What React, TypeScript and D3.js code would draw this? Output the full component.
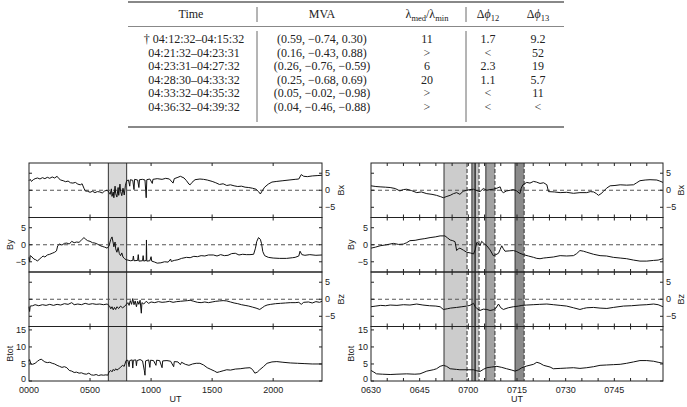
import * as d3 from "d3";

type Pt = [number, number];

// ---- table ----
const tableHead = ["Time", "MVA", "lambda", "dphi12", "dphi13"];
const tableTimes = [
  "† 04:12:32–04:15:32",
  "04:21:32–04:23:31",
  "04:23:31–04:27:32",
  "04:28:30–04:33:32",
  "04:33:32–04:35:32",
  "04:36:32–04:39:32",
];
const tableMva = [
  "(0.59, −0.74, 0.30)",
  "(0.16, −0.43, 0.88)",
  "(0.26, −0.76, −0.59)",
  "(0.25, −0.68, 0.69)",
  "(0.05, −0.02, −0.98)",
  "(0.04, −0.46, −0.88)",
];
const tableLambda = ["11", ">", "6", "20", ">", ">"];
const tablePhi12 = ["1.7", "<", "2.3", "1.1", "<", "<"];
const tablePhi13 = ["9.2", "52", "19", "5.7", "11", "<"];

// ---- left plot: whole day, hours UT ----
const dayBx: Pt[] = [
  [0, 2.8], [0.1, 3.2], [0.2, 2.6], [0.35, 3.1], [0.5, 3.4], [0.7, 3.6], [0.9, 3.3], [1.1, 3.7], [1.3, 3.4],
  [1.5, 3.8], [1.7, 3.5], [1.9, 3.9], [2.1, 3.6], [2.3, 4.1], [2.45, 3.4], [2.6, 3.0], [2.8, 2.8], [3.0, 2.5],
  [3.2, 2.7], [3.4, 2.2], [3.6, 2.1], [3.8, 2.3], [4.0, 1.8], [4.2, 1.6], [4.35, 1.9], [4.5, 0.6], [4.6, -0.2],
  [4.8, -0.3], [5.0, -0.6], [5.2, -0.3], [5.4, -0.7], [5.6, -0.4], [5.8, -0.5], [6.0, -0.8], [6.2, -0.2],
  [6.4, 0], [6.55, -0.6], [6.65, -1.2], [6.75, 0.4], [6.8, -1.8], [6.9, -0.5], [6.95, -2.2], [7.05, 1.2],
  [7.1, -1.0], [7.2, -2.0], [7.3, 0.8], [7.35, -1.5], [7.45, 1.8], [7.5, -0.3], [7.6, -1.6], [7.7, 0.6],
  [7.8, -1.4], [7.9, 1.5], [8.0, 2.8], [8.15, 3.0], [8.25, 1.2], [8.3, 3.1], [8.5, 2.9], [8.6, 0.2],
  [8.65, 3.2], [8.9, 3.0], [9.0, 0.8], [9.05, 3.1], [9.3, 3.2], [9.5, 3.0], [9.6, -2.2], [9.65, 3.1],
  [9.9, 3.3], [10.1, 2.0], [10.15, 3.2], [10.5, 3.4], [10.9, 3.2], [11.2, 3.5], [11.5, 3.3], [11.8, 2.1],
  [11.9, 3.4], [12.2, 3.8], [12.4, 4.1], [12.7, 3.6], [12.9, 2.8], [13.1, 1.8], [13.2, 1.6], [13.35, 2.3],
  [13.6, 3.1], [14.0, 3.3], [14.3, 3.2], [14.6, 3.0], [15.0, 2.6], [15.3, 2.2], [15.6, 1.7], [15.9, 1.9],
  [16.2, 1.4], [16.5, 1.6], [16.8, 1.3], [17.1, 1.1], [17.4, 1.2], [17.7, 0.9], [18.0, 0.8], [18.3, 0.6],
  [18.6, 0.3], [18.8, -0.4], [18.95, -1.1], [19.1, -0.2], [19.3, 0.9], [19.6, 1.8], [19.9, 2.4], [20.3, 2.6],
  [20.8, 2.8], [21.3, 3.0], [21.8, 3.2], [22.1, 3.3], [22.3, 4.6], [22.5, 4.1], [22.8, 4.0], [23.2, 4.2],
  [23.6, 4.3], [24.0, 4.4],
];
const dayBy: Pt[] = [
  [0, -3.7], [0.05, -5.0], [0.1, -3.2], [0.25, -3.6], [0.4, -4.2], [0.55, -4.4], [0.7, -4.8], [0.85, -4.2],
  [1.0, -3.8], [1.15, -3.3], [1.3, -3.6], [1.5, -3.0], [1.7, -2.8], [1.9, -2.5], [2.1, -2.2], [2.25, -1.8],
  [2.35, -0.3], [2.5, 0.2], [2.7, -0.1], [2.9, 0.4], [3.1, 0.5], [3.3, 0.2], [3.5, 1.0], [3.7, 0.6], [3.9, 0.8],
  [4.1, 0.7], [4.3, 1.4], [4.5, 2.1], [4.65, 1.6], [4.8, 1.2], [5.0, 1.0], [5.2, 0.6], [5.4, 0.5], [5.6, 0.2],
  [5.8, -0.2], [6.0, -0.5], [6.2, -0.7], [6.4, -1.0], [6.55, -0.4], [6.7, 1.6], [6.8, 2.3], [6.9, 0.5],
  [6.95, -0.6], [7.05, 0.8], [7.1, -1.2], [7.2, -2.2], [7.3, -0.8], [7.4, -2.6], [7.5, -3.2], [7.6, -2.4],
  [7.7, -3.6], [7.8, -4.0], [7.95, -4.4], [8.1, -4.5], [8.3, -4.7], [8.5, -4.6], [8.55, -3.3], [8.6, -4.7],
  [8.9, -4.6], [8.95, -2.9], [9.0, -4.8], [9.3, -4.7], [9.35, -3.2], [9.4, -4.8], [9.6, -4.6], [9.62, 1.4],
  [9.65, -4.8], [9.9, -4.7], [10.0, -3.5], [10.05, -4.8], [10.3, -5.1], [10.5, -5.4], [10.8, -5.3],
  [11.1, -5.0], [11.4, -5.1], [11.6, -4.2], [11.65, -4.9], [11.9, -4.6], [12.2, -4.4], [12.5, -4.0],
  [12.9, -3.7], [13.2, -3.8], [13.5, -3.4], [13.8, -3.5], [14.1, -3.2], [14.4, -3.3], [14.7, -3.0],
  [15.1, -3.0], [15.4, -3.3], [15.7, -2.9], [16.0, -3.2], [16.3, -3.1], [16.6, -2.6], [16.9, -2.5],
  [17.2, -3.0], [17.5, -2.8], [17.8, -2.9], [18.1, -2.9], [18.4, -2.8], [18.55, -1.0], [18.65, 0.9],
  [18.8, 2.1], [18.95, 1.6], [19.05, 0.3], [19.15, -2.0], [19.3, -3.2], [19.6, -3.7], [20.0, -3.9],
  [20.5, -4.0], [21.1, -4.0], [21.6, -3.8], [21.8, -3.7], [22.1, -3.3], [22.2, -1.9], [22.35, -2.9],
  [22.6, -3.1], [23.0, -2.9], [23.5, -3.1], [24.0, -3.0],
];
const dayBz: Pt[] = [
  [0, -2.2], [0.05, -3.6], [0.1, -2.0], [0.3, -1.9], [0.5, -1.6], [0.8, -1.9], [1.1, -1.6], [1.4, -1.8],
  [1.7, -1.5], [2.0, -1.8], [2.3, -1.5], [2.6, -1.7], [2.9, -1.3], [3.2, -1.5], [3.5, -1.0], [3.7, -1.6],
  [4.0, -1.4], [4.3, -1.6], [4.6, -1.2], [4.9, -1.5], [5.2, -1.3], [5.5, -1.5], [5.8, -1.4], [6.1, -1.6],
  [6.4, -1.4], [6.6, -2.0], [6.7, -2.8], [6.8, -2.2], [6.9, -3.1], [7.0, -2.4], [7.1, -3.0], [7.2, -2.2],
  [7.35, -2.7], [7.5, -2.0], [7.65, -2.5], [7.8, -2.2], [7.95, -1.6], [8.1, -1.0], [8.2, -1.8], [8.3, -0.4],
  [8.4, -1.5], [8.5, 0.2], [8.6, -1.6], [8.7, -0.5], [8.8, -2.2], [8.9, -0.6], [9.0, -1.5], [9.1, -0.3],
  [9.2, -4.1], [9.25, -1.0], [9.4, -1.4], [9.6, -0.6], [9.8, -1.2], [10.0, -0.8], [10.3, -1.0], [10.6, -0.7],
  [10.9, -0.9], [11.2, -0.8], [11.5, -0.6], [11.8, -0.9], [12.1, -0.7], [12.4, -0.6], [12.7, -0.5],
  [13.0, -0.4], [13.2, -0.3], [13.5, -0.6], [13.8, -0.9], [14.1, -1.0], [14.4, -0.8], [14.7, -1.0],
  [15.0, -0.8], [15.3, -0.6], [15.6, -0.5], [15.9, -0.4], [16.2, -0.5], [16.5, -0.8], [16.8, -1.1],
  [17.1, -1.3], [17.4, -1.6], [17.7, -1.8], [18.0, -2.0], [18.3, -2.3], [18.6, -2.6], [18.9, -3.0],
  [19.1, -2.5], [19.3, -2.0], [19.5, -1.7], [19.8, -1.5], [20.2, -1.3], [20.6, -1.2], [21.0, -1.1],
  [21.4, -1.0], [21.8, -1.0], [22.1, -0.9], [22.3, -1.5], [22.5, -0.9], [22.9, -0.8], [23.2, -1.1],
  [23.5, -0.7], [23.8, -0.9], [24.0, -0.6],
];
const dayBtot: Pt[] = [
  [0, 5.8], [0.05, 6.3], [0.15, 5.0], [0.3, 4.9], [0.5, 5.2], [0.7, 5.8], [0.85, 6.2], [1.0, 6.4], [1.15, 6.0],
  [1.3, 5.6], [1.5, 5.4], [1.7, 5.5], [1.9, 5.2], [2.1, 5.0], [2.3, 4.6], [2.5, 4.3], [2.7, 4.0], [2.9, 4.2],
  [3.1, 3.9], [3.3, 3.1], [3.5, 2.9], [3.7, 2.5], [3.9, 2.6], [4.1, 2.3], [4.3, 2.4], [4.5, 2.1], [4.7, 2.0],
  [4.9, 2.3], [5.1, 1.8], [5.3, 1.7], [5.5, 1.9], [5.7, 1.6], [5.9, 1.8], [6.1, 1.7], [6.3, 1.8], [6.45, 1.7],
  [6.55, 2.6], [6.7, 3.1], [6.8, 2.7], [6.9, 3.4], [7.0, 3.0], [7.1, 3.6], [7.2, 3.2], [7.35, 3.6], [7.5, 4.0],
  [7.65, 4.6], [7.8, 4.3], [7.95, 6.0], [8.1, 6.1], [8.2, 4.2], [8.25, 6.0], [8.45, 6.2], [8.5, 3.8],
  [8.55, 6.1], [8.75, 6.2], [8.8, 4.5], [8.85, 6.0], [9.1, 6.3], [9.3, 5.9], [9.45, 3.0], [9.5, 1.7],
  [9.55, 5.9], [9.8, 6.2], [9.9, 4.0], [9.95, 6.1], [10.2, 6.0], [10.4, 4.6], [10.45, 6.1], [10.7, 6.0],
  [10.9, 3.9], [10.95, 5.9], [11.3, 6.0], [11.6, 5.8], [11.85, 4.2], [11.9, 5.7], [12.2, 5.6], [12.4, 4.8],
  [12.5, 5.5], [12.8, 4.9], [13.1, 4.6], [13.4, 5.0], [13.7, 5.2], [14.0, 5.2], [14.3, 4.7], [14.6, 3.9],
  [14.9, 3.4], [15.2, 2.9], [15.4, 2.5], [15.6, 2.7], [15.9, 3.0], [16.2, 3.3], [16.5, 3.2], [16.9, 3.5],
  [17.3, 3.6], [17.7, 3.8], [18.1, 3.9], [18.3, 3.4], [18.5, 2.3], [18.7, 2.6], [18.9, 3.3], [19.2, 4.2],
  [19.5, 5.2], [19.9, 5.6], [20.3, 5.7], [20.8, 5.5], [21.4, 5.3], [22.0, 5.2], [22.6, 5.1], [23.2, 5.0],
  [24.0, 5.0],
];

// ---- right plot: minutes after 06:30 UT ----
const zoomBx: Pt[] = [
  [0, 1.3], [1.5, 1.1], [2.8, 1.0], [4.5, 0.9], [5.9, 0.8], [7.5, 0.5], [8.9, -0.2], [10, 0.2], [11, 0.3],
  [12.5, -0.1], [14.1, -0.7], [15.5, -0.5], [17.2, -1.0], [18.8, -1.2], [20.2, -1.5], [21.5, -1.9],
  [22.3, -2.2], [23.4, -1.8], [24.4, -1.5], [25.4, -1.0], [26.4, -0.7], [27.4, -1.2], [28.4, -0.3],
  [29.5, 0], [30.5, 0.2], [31.6, 0.3], [32.6, -0.1], [33.6, -0.4], [34.6, 0.5], [35.7, 0], [36.7, 0.2],
  [37.7, 0.3], [38.8, 0.6], [39.8, 1.0], [40.3, -0.3], [40.8, -0.7], [41.8, -0.2], [42.9, 0], [43.9, 0.2],
  [44.9, -0.2], [45.9, -1.0], [46.3, 0.6], [46.8, 1.6], [48, 2.3], [49, 2.1], [50.1, 2.6], [51, 2.4],
  [52.1, 2.0], [53.2, 2.2], [54.2, 1.6], [54.7, -0.4], [56.5, -0.5], [58.3, -0.7], [60.3, -0.6],
  [62.4, -0.9], [64.4, -0.7], [66.5, -0.7], [67.6, -0.4], [68.6, -0.5], [69.5, -1.0], [70.1, -1.5],
  [70.9, -1.0], [71.6, -0.4], [72.6, 0.6], [73.7, 1.3], [75.2, 1.4], [76.8, 1.6], [78.8, 1.5], [80.9, 1.6],
  [81.9, 2.2], [82.9, 2.8], [84.5, 3.0], [86, 3.1], [88.1, 3.0], [89, 2.7], [90, 2.3],
];
const zoomBy: Pt[] = [
  [0, -1.0], [1.4, -0.7], [2.8, -0.3], [4.8, 0], [6.9, 0.4], [8.5, 0.1], [10, 0.2], [11, 0.6], [12, 1.2],
  [13.6, 1.3], [15.1, 1.6], [16.6, 1.8], [18.2, 2.1], [19.8, 2.3], [21.3, 2.6], [22.8, 2.6], [23.6, 2.0],
  [24.4, 1.4], [25.2, 1.2], [25.9, 0.9], [26.4, -1.7], [26.9, -1.2], [27.4, -1.0], [28.5, -1.6],
  [29.5, -2.2], [30.6, -2.4], [31.6, -2.7], [32.1, -1.5], [32.6, 0.7], [33.1, 0.4], [33.6, -0.3],
  [34.1, 1.0], [34.9, 0.3], [35.7, -0.3], [36.7, -1.5], [37.7, -3.2], [38.5, -2.9], [39.3, -2.5],
  [39.8, -1.4], [40.3, -0.3], [40.8, -1.2], [41.3, -1.9], [42.6, -1.8], [43.9, -1.7], [44.9, -2.0],
  [45.9, -2.5], [47, -2.9], [48.5, -3.3], [50.1, -3.7], [51.1, -4.0], [52.1, -4.1], [53.2, -3.9],
  [54.2, -3.8], [56.2, -3.6], [58.3, -3.2], [60.3, -3.3], [62.4, -3.2], [63.4, -2.6], [64.4, -1.7],
  [65.5, -1.9], [66.5, -2.2], [68.6, -2.8], [70.6, -3.2], [72.6, -3.3], [74.7, -3.7], [76.8, -3.9],
  [78.8, -4.1], [80.9, -4.5], [82.9, -4.8], [85, -4.8], [87.1, -4.6], [88.5, -4.5], [90, -4.1],
];
const zoomBz: Pt[] = [
  [0, -2.2], [1.5, -2.0], [3, -1.8], [4.5, -1.9], [5.9, -1.7], [8, -1.8], [10, -1.6], [12, -1.7],
  [14.1, -1.4], [16, -1.7], [18, -1.9], [20, -2.0], [21.3, -2.2], [22.3, -3.0], [23.5, -2.8], [24.5, -2.6],
  [26.4, -2.4], [28, -2.2], [29.5, -2.0], [30.5, -1.8], [31.6, -1.2], [32.1, -2.2], [32.6, -2.7],
  [33.6, -3.3], [34.6, -2.9], [35.7, -3.0], [36.7, -3.3], [37.7, -3.1], [38.5, -2.6], [39.3, -1.4],
  [40, -2.5], [40.8, -3.0], [42.3, -2.5], [43.9, -2.2], [45.5, -2.0], [46.5, -1.8], [48, -1.7], [50, -1.6],
  [52, -1.5], [54.2, -1.4], [56.2, -1.6], [58.3, -1.8], [60.3, -2.0], [62.4, -2.5], [64.4, -3.0],
  [65.5, -2.7], [66.5, -2.5], [68.6, -2.4], [70.6, -2.6], [72.7, -2.7], [74.7, -2.4], [77.8, -2.0],
  [80.3, -1.9], [82.9, -1.7], [85, -1.6], [87.1, -1.4], [88.5, -1.6], [90, -2.2],
];
const zoomBtot: Pt[] = [
  [0, 3.1], [0.9, 2.6], [1.7, 2.1], [3.5, 2.0], [5.9, 1.9], [8, 2.0], [11, 2.1], [13.5, 2.0], [15.1, 2.1],
  [17.2, 2.9], [19.2, 3.3], [20.2, 3.6], [21.3, 4.3], [22.3, 4.6], [23.3, 4.3], [24.4, 3.6], [26.4, 3.4],
  [27.4, 3.3], [29.5, 3.3], [31.6, 3.3], [32.6, 3.0], [33.6, 2.8], [34.6, 3.4], [35.7, 3.9], [37.2, 4.1],
  [38.8, 4.3], [40.3, 4.0], [41.8, 3.6], [43.4, 3.2], [44.4, 2.9], [45.5, 3.3], [46.5, 3.9], [48, 4.4],
  [50.1, 4.9], [51.1, 5.5], [52.1, 5.2], [53.2, 4.6], [55.2, 4.1], [56.2, 3.6], [58.3, 3.7], [60.3, 3.8],
  [62.4, 3.9], [64.4, 3.7], [66.5, 3.9], [68.6, 4.2], [70.6, 4.6], [72.6, 4.7], [74.7, 4.8], [76.8, 4.9],
  [78.8, 5.2], [80.9, 5.6], [82.9, 6.0], [85, 6.0], [87.1, 5.8], [88.5, 5.5], [90, 5.2],
];

// shaded intervals
const dayShades = [{ from: 6.5, to: 8.0, fill: "#d9d9d9", dashEnd: false }];
const zoomShades = [
  { from: 22.5, to: 29.6, fill: "#cccccc", dashEnd: true },
  { from: 31.1, to: 32.1, fill: "#9e9e9e", dashEnd: false },
  { from: 32.1, to: 33.3, fill: "#c4c4c4", dashEnd: true },
  { from: 35.4, to: 38.2, fill: "#a2a2a2", dashEnd: true },
  { from: 44.4, to: 47.2, fill: "#8a8a8a", dashEnd: true },
];

const compTicks = [-5, 0, 5];
const totTicks = [0, 5, 10, 15];

const plotTop = 163;
const panelH = 54.5;
const tickLen = 3;
const sans = "'Liberation Sans', Arial, sans-serif";
const serif = "'Liberation Serif', 'Times New Roman', serif";

const num = (v: number) => (v < 0 ? `−${-v}` : `${v}`);
const hhmmDay = (h: number) => String(h * 100).padStart(4, "0");
const hhmmZoom = (m: number) => {
  const t = 390 + m;
  return String(Math.floor(t / 60)).padStart(2, "0") + String(t % 60).padStart(2, "0");
};

function StackPlot({ x0, x1, domain, series, ticks, labelTicks, fmt, shades, leftTitleX, rightTitleX }: any) {
  const xs = d3.scaleLinear().domain(domain).range([x0, x1]);
  const bottom = plotTop + panelH * series.length;
  return (
    <g>
      {shades.map((s: any, i: number) => (
        <rect key={"s" + i} x={xs(s.from)} y={plotTop} width={xs(s.to) - xs(s.from)} height={bottom - plotTop} fill={s.fill} />
      ))}
      {shades.map((s: any, i: number) => (
        <g key={"e" + i} stroke="#333" strokeWidth={1}>
          <line x1={xs(s.from)} x2={xs(s.from)} y1={plotTop} y2={bottom} />
          <line x1={xs(s.to)} x2={xs(s.to)} y1={plotTop} y2={bottom} strokeDasharray={s.dashEnd ? "4,2" : undefined} />
        </g>
      ))}
      {series.map((s: any, i: number) => {
        const top = plotTop + i * panelH;
        const ys = d3.scaleLinear().domain(s.domain).range([top + panelH, top]);
        const path = d3.line<Pt>().x((d) => xs(d[0])).y((d) => ys(d[1]))(s.data) || "";
        const right = s.side === "right";
        const yMid = top + panelH / 2;
        const isLast = i === series.length - 1;
        return (
          <g key={s.name}>
            {s.zero && (
              <line x1={x0} x2={x1} y1={ys(0)} y2={ys(0)} stroke="#555" strokeDasharray="4,3" />
            )}
            <path d={path} fill="none" stroke="#111" strokeWidth={1} strokeLinejoin="round" />
            <rect x={x0} y={top} width={x1 - x0} height={panelH} fill="none" stroke="#222" strokeWidth={1} />
            {s.ticks.map((t: number) => (
              <g key={t} stroke="#222">
                <line x1={x0} x2={x0 + tickLen} y1={ys(t)} y2={ys(t)} />
                <line x1={x1} x2={x1 - tickLen} y1={ys(t)} y2={ys(t)} />
              </g>
            ))}
            {ticks.map((t: number) => (
              <g key={"x" + t} stroke="#222">
                <line x1={xs(t)} x2={xs(t)} y1={top} y2={top + tickLen} />
                <line x1={xs(t)} x2={xs(t)} y1={top + panelH} y2={top + panelH - tickLen} />
              </g>
            ))}
            {s.ticks.map((t: number) => (
              <text key={"l" + t} x={right ? x1 + 3 : x0 - 3}
                y={ys(t) + (isLast && t === s.domain[0] ? 0.5 : 3.2)} textAnchor={right ? "start" : "end"}
                fontSize={9} fill="#222">{num(t)}</text>
            ))}
            <text transform={`translate(${right ? rightTitleX : leftTitleX},${yMid}) rotate(-90)`} textAnchor="middle"
              fontSize={9} fill="#222">{s.name}</text>
          </g>
        );
      })}
      {labelTicks.map((t: number) => (
        <text key={"xl" + t} x={xs(t)} y={bottom + 11.5} textAnchor="middle" fontSize={9} fill="#222">{fmt(t)}</text>
      ))}
      <text x={(x0 + x1) / 2} y={bottom + 20.5} textAnchor="middle" fontSize={9} fill="#222">UT</text>
    </g>
  );
}

// table layout
const colX = [194, 322, 427, 488, 538];
const tableLeft = 128;
const tableRight = 564;
const rowBase = 43;
const rowStep = 13.6;

function Table() {
  const rows = tableTimes.map((t, i) => [t, tableMva[i], tableLambda[i], tablePhi12[i], tablePhi13[i]]);
  const bottomRule = rowBase + rowStep * 5 + 16;
  return (
    <g fontFamily={serif} fontSize={12} fill="#222">
      <line x1={tableLeft} x2={tableRight} y1={2} y2={2} stroke="#888" strokeWidth={2} />
      <line x1={tableLeft} x2={tableRight} y1={26.5} y2={26.5} stroke="#888" strokeWidth={1} />
      <line x1={tableLeft} x2={tableRight} y1={bottomRule} y2={bottomRule} stroke="#888" strokeWidth={2} />
      {[257, 466].map((x) => (
        <g key={x} stroke="#444" strokeWidth={0.8}>
          <line x1={x} x2={x} y1={7} y2={22} />
          <line x1={x} x2={x} y1={31} y2={bottomRule - 5} />
        </g>
      ))}
      <text x={191} y={18} textAnchor="middle">{tableHead[0]}</text>
      <text x={colX[1]} y={18} textAnchor="middle">{tableHead[1]}</text>
      <text x={colX[2]} y={18} textAnchor="middle">
        λ<tspan fontSize={8.5} dy={2.5}>med</tspan><tspan dy={-2.5}>/λ</tspan><tspan fontSize={8.5} dy={2.5}>min</tspan>
      </text>
      <text x={colX[3]} y={18} textAnchor="middle">
        Δ<tspan fontStyle="italic">ϕ</tspan><tspan fontSize={8.5} dy={2.5}>12</tspan>
      </text>
      <text x={colX[4]} y={18} textAnchor="middle">
        Δ<tspan fontStyle="italic">ϕ</tspan><tspan fontSize={8.5} dy={2.5}>13</tspan>
      </text>
      {rows.map((r, i) => (
        <g key={i}>
          {r.map((c, j) => (
            <text key={j} x={colX[j]} y={rowBase + rowStep * i} textAnchor="middle">{c}</text>
          ))}
        </g>
      ))}
    </g>
  );
}

export default function App() {
  const daySeries = [
    { name: "Bx", data: dayBx, domain: [-8, 8], ticks: compTicks, side: "right", zero: true },
    { name: "By", data: dayBy, domain: [-8, 8], ticks: compTicks, side: "left", zero: true },
    { name: "Bz", data: dayBz, domain: [-8, 8], ticks: compTicks, side: "right", zero: true },
    { name: "Btot", data: dayBtot, domain: [0, 16], ticks: totTicks, side: "left", zero: false },
  ];
  const zoomSeries = [
    { name: "Bx", data: zoomBx, domain: [-8, 8], ticks: compTicks, side: "right", zero: true },
    { name: "By", data: zoomBy, domain: [-8, 8], ticks: compTicks, side: "left", zero: true },
    { name: "Bz", data: zoomBz, domain: [-8, 8], ticks: compTicks, side: "right", zero: true },
    { name: "Btot", data: zoomBtot, domain: [0, 16], ticks: totTicks, side: "left", zero: false },
  ];
  return (
    <svg width={687} height={407} style={{ position: "absolute", left: 0, top: 0, background: "#fff" }}>
      <Table />
      <g fontFamily={sans}>
        <StackPlot x0={29} x1={322} domain={[0, 24]} series={daySeries} ticks={[5, 10, 15, 20]}
          labelTicks={[0, 5, 10, 15, 20]} fmt={hhmmDay} shades={dayShades} leftTitleX={13} rightTitleX={344} />
        <StackPlot x0={371} x1={663} domain={[0, 90]} series={zoomSeries} ticks={d3.range(5, 90, 5)}
          labelTicks={[0, 15, 30, 45, 60, 75]} fmt={hhmmZoom} shades={zoomShades} leftTitleX={354} rightTitleX={684} />
      </g>
    </svg>
  );
}
